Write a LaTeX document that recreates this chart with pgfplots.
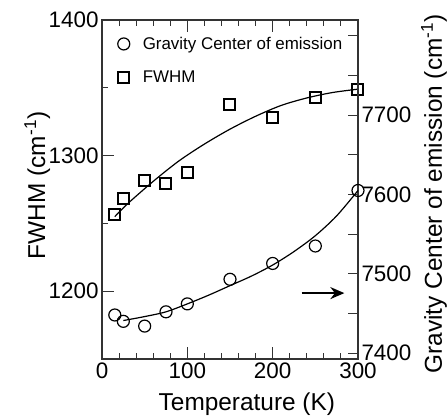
\documentclass[border=0pt]{standalone}
\usepackage{pgfplots}
\pgfplotsset{compat=1.18}
\usepackage{fontspec}
\setmainfont{Liberation Sans}
\usetikzlibrary{arrows.meta}
\newcommand{\tickfont}{\fontsize{22.5}{26}\selectfont}
\newcommand{\labfont}{\fontsize{24.5}{28}\selectfont}
\newcommand{\legfont}{\fontsize{17}{20}\selectfont}
\begin{document}
\begin{tikzpicture}
\useasboundingbox (-102bp,-61bp) rectangle (346bp,359bp);
\pgfplotsset{
  common/.style={
    scale only axis, width=256bp, height=339bp,
    xmin=0, xmax=300,
    clip=false,
    tick align=inside,
    axis line style={black!80, line width=1.1bp},
    every tick/.style={black!80, line width=1.1bp},
    tick label style={font=\tickfont},
    /pgf/number format/assume math mode=true,
    /pgf/number format/set thousands separator={},
  }
}
% left axis: FWHM
\begin{axis}[common,
  ymin=1150, ymax=1400,
  xtick={0,100,200,300}, minor x tick num=4,
  xtick pos=both,
  ytick={1200,1300,1400}, minor ytick={1250,1350},
  ytick pos=left,
  major tick length=12bp, minor tick length=6bp,
  xlabel={\labfont Temperature (K)},
  xlabel style={at={(axis description cs:0.566,-0.1525)}, anchor=base},
  ylabel={\labfont FWHM (cm\textsuperscript{-1})},
  ylabel style={at={(axis description cs:-0.222,0.512)}, anchor=base},
  legend style={at={(axis description cs:0.053,0.962)}, anchor=north west,
    draw=none, fill=none, font=\legfont, row sep=16bp, column sep=11bp, inner sep=2bp},
  legend cell align=left,
]
\addlegendimage{only marks, mark=o, mark size=6bp, line width=1.2bp, black}
\addlegendentry{Gravity Center of emission}
\addplot[only marks, mark=square, mark size=5.5bp, line width=2bp, black]
  coordinates {(15,1256.6) (25,1268.4) (50,1281.6) (75,1279.4) (100,1287.5)
               (150,1338) (200,1328) (250,1342.6) (300,1349)};
\addlegendentry{FWHM}
\addplot[smooth, black, line width=1.2bp, forget plot]
  coordinates {(15,1255) (30,1264.5) (60,1281) (90,1296) (120,1308.5) (150,1319.5)
               (180,1329) (210,1337) (240,1342.5) (270,1346.5) (300,1349)};
\end{axis}
% right axis: gravity center
\begin{axis}[common,
  ymin=7392.5, ymax=7820,
  axis x line=none,
  axis y line*=right,
  ytick={7400,7450,...,7800},
  yticklabels={7400,,7500,,7600,,7700,,},
  ytick pos=right,
  major tick length=10bp,
  ylabel={\labfont Gravity Center of emission (cm\textsuperscript{-1})},
  ylabel style={at={(axis description cs:1.328,0.487)}, anchor=base},
]
\addplot[smooth, black, line width=1.2bp]
  coordinates {(25,7441) (50,7446) (75,7452) (100,7462) (125,7473) (150,7485)
               (175,7497) (200,7511) (225,7528) (250,7548) (275,7573) (300,7605)};
\addplot[only marks, mark=o, mark size=6bp, line width=1.2bp, black,
  mark options={fill=white}]
  coordinates {(15,7448) (25,7440) (50,7434) (75,7452) (100,7462)
               (150,7493) (200,7513) (250,7535) (300,7605)};
\draw[line width=2bp, -{Stealth[length=14bp,width=12bp]}]
  (axis cs:234,7475.6) -- (axis cs:284,7475.6);
\end{axis}
\end{tikzpicture}
\end{document}
